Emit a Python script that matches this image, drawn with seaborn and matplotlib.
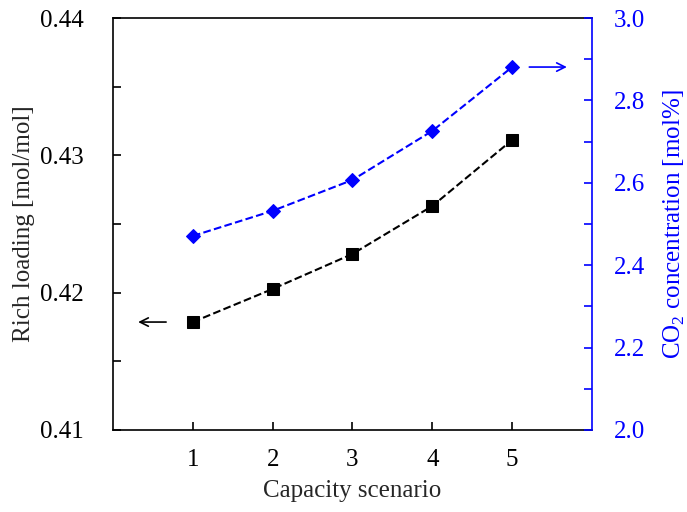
import matplotlib
matplotlib.use("Agg")
import matplotlib.pyplot as plt
import seaborn as sns
import pandas as pd

scenarios = [1, 2, 3, 4, 5]
rich_loading = [0.41786, 0.42027, 0.42282, 0.42631, 0.43112]
co2_conc = [2.471, 2.532, 2.607, 2.726, 2.881]
left_ticks = [0.41, 0.42, 0.43, 0.44]
right_ticks = [2.0, 2.2, 2.4, 2.6, 2.8, 3.0]

sns.set_style("ticks")
plt.rcParams['font.family'] = ['Liberation Serif', 'DejaVu Serif']
plt.rcParams['mathtext.fontset'] = 'custom'
plt.rcParams['mathtext.rm'] = 'Liberation Serif'

df = pd.DataFrame({"scenario": scenarios, "rich": rich_loading, "co2": co2_conc})

fig = plt.figure(figsize=(6.87, 5.12), dpi=100)
ax = fig.add_axes([0.1645, 0.1602, 0.8617 - 0.1645, 0.9648 - 0.1602])
ax2 = ax.twinx()

blue = "#0000ff"
fs = 18

sns.lineplot(data=df, x="scenario", y="rich", ax=ax, color="black", linestyle="--",
             linewidth=1.5, marker="s", markersize=8.5, markeredgecolor="black")
sns.lineplot(data=df, x="scenario", y="co2", ax=ax2, color=blue, linestyle="--",
             linewidth=1.5, marker="D", markersize=7.5, markeredgecolor=blue)

ax.set_xlim(0, 6)
ax.set_ylim(0.41, 0.44)
ax2.set_ylim(2.0, 3.0)
ax.set_xticks(scenarios)
ax.set_yticks(left_ticks)
ax.set_yticklabels([f"{v:.2f}" for v in left_ticks])
ax.set_yticks([0.415, 0.425, 0.435], minor=True)
ax2.set_yticks(right_ticks)
ax2.set_yticklabels([f"{v:.1f}" for v in right_ticks])
ax2.set_yticks([2.1, 2.3, 2.5, 2.7, 2.9], minor=True)

ax.tick_params(axis="both", which="both", direction="in", length=6, width=1.2,
               labelsize=fs, colors="black")
ax.tick_params(axis="y", which="both", pad=21)
ax.tick_params(axis="x", which="both", pad=14)
ax2.tick_params(axis="y", which="both", direction="in", length=6, width=1.2,
                labelsize=fs, colors=blue, pad=16)

for s in ["left", "bottom", "top"]:
    ax2.spines[s].set_visible(False)
for s in ["left", "bottom", "top"]:
    ax.spines[s].set_color("black")
    ax.spines[s].set_linewidth(1.2)
ax.spines["right"].set_visible(False)
ax2.spines["right"].set_color(blue)
ax2.spines["right"].set_linewidth(1.2)

ax.set_xlabel("Capacity scenario", fontsize=fs, labelpad=6)
ax.set_ylabel("Rich loading [mol/mol]", fontsize=fs, labelpad=4)
ax2.set_ylabel("CO$_2$ concentration [mol%]", fontsize=fs, color=blue, labelpad=12)

ax.annotate("", xy=(0.28, rich_loading[0]), xytext=(0.7, rich_loading[0]),
            arrowprops=dict(arrowstyle="->", color="black", lw=1.2, mutation_scale=15))
ax2.annotate("", xy=(5.72, co2_conc[-1]), xytext=(5.18, co2_conc[-1]),
             arrowprops=dict(arrowstyle="->", color=blue, lw=1.2, mutation_scale=15))

fig.savefig("out.png", dpi=100)
